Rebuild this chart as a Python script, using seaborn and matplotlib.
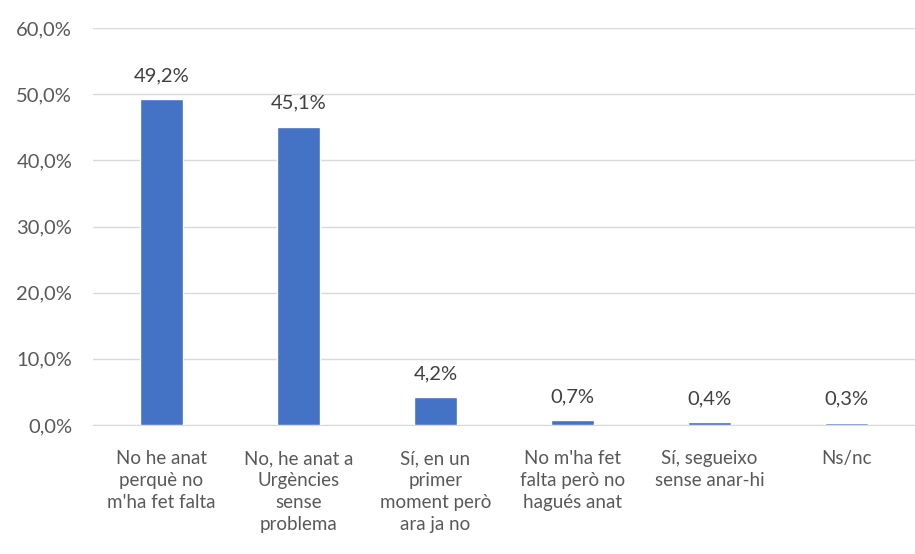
import seaborn as sns
import matplotlib.pyplot as plt
import pandas as pd
from matplotlib.ticker import FuncFormatter

# data
categories = [
    "No he anat\nperquè no\nm'ha fet falta",
    "No, he anat a\nUrgències\nsense\nproblema",
    "Sí, en un\nprimer\nmoment però\nara ja no",
    "No m'ha fet\nfalta però no\nhagués anat",
    "Sí, segueixo\nsense anar-hi",
    "Ns/nc",
]
values = [49.2, 45.1, 4.2, 0.7, 0.4, 0.3]
value_labels = ["49,2%", "45,1%", "4,2%", "0,7%", "0,4%", "0,3%"]

df = pd.DataFrame({"cat": categories, "val": values})

sns.set_style("white")
plt.rcParams['font.family'] = ['Lato', 'DejaVu Sans']

fig = plt.figure(figsize=(9.15, 5.54), dpi=100)
ax = fig.add_axes([93 / 915, 1 - 425 / 554, 822 / 915, (425 - 28) / 554])

sns.barplot(data=df, x="cat", y="val", color="#4472C4", width=0.31,
            saturation=1, ax=ax, zorder=3)

ax.set_ylim(0, 60)
ax.set_yticks(range(0, 61, 10))
ax.yaxis.set_major_formatter(FuncFormatter(lambda v, p: f"{v:.1f}%".replace(".", ",")))
ax.grid(axis="y", color="#D9D9D9", linewidth=1, zorder=0)
for s in ["top", "right", "left"]:
    ax.spines[s].set_visible(False)
ax.spines["bottom"].set_color("#D9D9D9")
ax.tick_params(axis="both", length=0, colors="#595959")
ax.tick_params(axis="x", pad=18, labelsize=13.5)
ax.tick_params(axis="y", pad=15, labelsize=14.5)
for lbl in ax.get_xticklabels():
    lbl.set_linespacing(1.35)
ax.set_xlabel("")
ax.set_ylabel("")

for i, (v, t) in enumerate(zip(values, value_labels)):
    ax.text(i, v + 2.3, t, ha="center", va="bottom", fontsize=14.5, color="#404040")

fig.savefig("out.png", dpi=100)
